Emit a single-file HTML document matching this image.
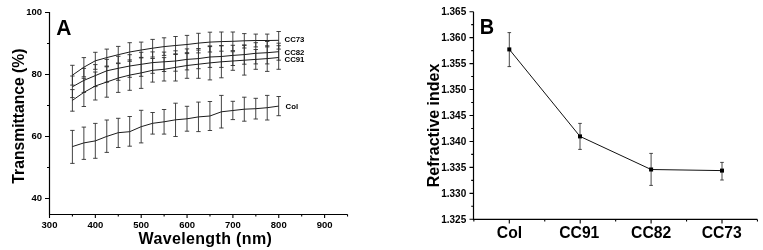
<!DOCTYPE html>
<html><head><meta charset="utf-8"><style>
html,body{margin:0;padding:0;background:#fff;}
svg{display:block;will-change:transform;}
text{font-family:"Liberation Sans",sans-serif;font-weight:bold;fill:#000;}
.tl{font-size:9.5px;}
.tlb{font-size:10px;}
.pl{font-size:20.5px;}
.pa{font-size:21px;}
.at{font-size:16px;}
.sl{font-size:7.8px;}
.ct{font-size:15.7px;}
</style></head><body>
<svg width="763" height="250" viewBox="0 0 763 250">
<path d="M49.5 12V214.5H347.6" fill="none" stroke="#000" stroke-width="1.2"/>
<path d="M45 12.50H49.5M45 74.50H49.5M45 136.50H49.5M45 198.50H49.5M47 43.50H49.5M47 105.50H49.5M47 167.50H49.5M49.50 214.5V218M95.35 214.5V218M141.20 214.5V218M187.05 214.5V218M232.90 214.5V218M278.75 214.5V218M324.60 214.5V218M72.42 214.5V216.5M118.28 214.5V216.5M164.12 214.5V216.5M209.97 214.5V216.5M255.83 214.5V216.5M301.68 214.5V216.5M347.53 214.5V216.5" stroke="#000" stroke-width="1.1" fill="none"/>
<text transform="translate(42 14.70) scale(1 1.04)" class="tl" text-anchor="end">100</text>
<text transform="translate(42 76.70) scale(1 1.04)" class="tl" text-anchor="end">80</text>
<text transform="translate(42 138.70) scale(1 1.04)" class="tl" text-anchor="end">60</text>
<text transform="translate(42 200.70) scale(1 1.04)" class="tl" text-anchor="end">40</text>
<text transform="translate(49.50 227.6) scale(1 1.04)" class="tl" text-anchor="middle">300</text>
<text transform="translate(95.35 227.6) scale(1 1.04)" class="tl" text-anchor="middle">400</text>
<text transform="translate(141.20 227.6) scale(1 1.04)" class="tl" text-anchor="middle">500</text>
<text transform="translate(187.05 227.6) scale(1 1.04)" class="tl" text-anchor="middle">600</text>
<text transform="translate(232.90 227.6) scale(1 1.04)" class="tl" text-anchor="middle">700</text>
<text transform="translate(278.75 227.6) scale(1 1.04)" class="tl" text-anchor="middle">800</text>
<text transform="translate(324.60 227.6) scale(1 1.04)" class="tl" text-anchor="middle">900</text>
<text transform="translate(56.3 34.6) scale(1 1.08)" class="pa">A</text>
<text x="138.6" y="243.8" class="at" style="letter-spacing:0.35px">Wavelength (nm)</text>
<text transform="translate(24.2 116.1) rotate(-90)" class="at" style="font-size:15.7px" text-anchor="middle">Transmittance (%)</text>
<path d="M72.40 65.30V85.10M70.20 65.30H74.60M70.20 85.10H74.60M83.86 57.60V76.80M81.66 57.60H86.06M81.66 76.80H86.06M95.32 52.30V69.30M93.12 52.30H97.52M93.12 69.30H97.52M106.78 49.10V66.10M104.58 49.10H108.98M104.58 66.10H108.98M118.24 46.40V63.00M116.04 46.40H120.44M116.04 63.00H120.44M129.70 42.70V61.30M127.50 42.70H131.90M127.50 61.30H131.90M141.16 42.10V57.90M138.96 42.10H143.36M138.96 57.90H143.36M152.62 39.40V57.00M150.42 39.40H154.82M150.42 57.00H154.82M164.08 37.80V55.40M161.88 37.80H166.28M161.88 55.40H166.28M175.54 36.50V54.50M173.34 36.50H177.74M173.34 54.50H177.74M187.00 35.40V53.60M184.80 35.40H189.20M184.80 53.60H189.20M198.46 33.30V52.90M196.26 33.30H200.66M196.26 52.90H200.66M209.92 32.20V52.00M207.72 32.20H212.12M207.72 52.00H212.12M221.38 32.00V51.20M219.18 32.00H223.58M219.18 51.20H223.58M232.84 32.00V50.60M230.64 32.00H235.04M230.64 50.60H235.04M244.30 33.60V48.00M242.10 33.60H246.50M242.10 48.00H246.50M255.76 34.10V46.90M253.56 34.10H257.96M253.56 46.90H257.96M267.22 34.10V46.90M265.02 34.10H269.42M265.02 46.90H269.42M278.68 31.50V49.10M276.48 31.50H280.88M276.48 49.10H280.88M72.40 76.00V97.60M70.20 76.00H74.60M70.20 97.60H74.60M83.86 68.40V92.40M81.66 68.40H86.06M81.66 92.40H86.06M95.32 64.60V86.60M93.12 64.60H97.52M93.12 86.60H97.52M106.78 59.40V82.20M104.58 59.40H108.98M104.58 82.20H108.98M118.24 56.30V80.30M116.04 56.30H120.44M116.04 80.30H120.44M129.70 54.70V77.30M127.50 54.70H131.90M127.50 77.30H131.90M141.16 52.30V76.30M138.96 52.30H143.36M138.96 76.30H143.36M152.62 51.90V73.30M150.42 51.90H154.82M150.42 73.30H154.82M164.08 52.10V71.50M161.88 52.10H166.28M161.88 71.50H166.28M175.54 50.80V71.20M173.34 50.80H177.74M173.34 71.20H177.74M187.00 48.90V69.90M184.80 48.90H189.20M184.80 69.90H189.20M198.46 48.50V68.70M196.26 48.50H200.66M196.26 68.70H200.66M209.92 46.60V67.40M207.72 46.60H212.12M207.72 67.40H212.12M221.38 45.60V67.40M219.18 45.60H223.58M219.18 67.40H223.58M232.84 45.30V65.50M230.64 45.30H235.04M230.64 65.50H235.04M244.30 45.00V64.20M242.10 45.00H246.50M242.10 64.20H246.50M255.76 42.70V63.90M253.56 42.70H257.96M253.56 63.90H257.96M267.22 41.50V63.90M265.02 41.50H269.42M265.02 63.90H269.42M278.68 43.20V60.20M276.48 43.20H280.88M276.48 60.20H280.88M72.40 89.60V111.20M70.20 89.60H74.60M70.20 111.20H74.60M83.86 78.30V106.50M81.66 78.30H86.06M81.66 106.50H86.06M95.32 72.00V100.00M93.12 72.00H97.52M93.12 100.00H97.52M106.78 66.80V97.20M104.58 66.80H108.98M104.58 97.20H108.98M118.24 63.60V92.40M116.04 63.60H120.44M116.04 92.40H120.44M129.70 59.90V90.30M127.50 59.90H131.90M127.50 90.30H131.90M141.16 57.40V88.40M138.96 57.40H143.36M138.96 88.40H143.36M152.62 58.50V82.10M150.42 58.50H154.82M150.42 82.10H154.82M164.08 57.60V81.00M161.88 57.60H166.28M161.88 81.00H166.28M175.54 53.80V81.00M173.34 53.80H177.74M173.34 81.00H177.74M187.00 52.70V78.30M184.80 52.70H189.20M184.80 78.30H189.20M198.46 50.10V78.30M196.26 50.10H200.66M196.26 78.30H200.66M209.92 45.90V79.90M207.72 45.90H212.12M207.72 79.90H212.12M221.38 45.80V77.80M219.18 45.80H223.58M219.18 77.80H223.58M232.84 51.70V70.30M230.64 51.70H235.04M230.64 70.30H235.04M244.30 45.30V75.10M242.10 45.30H246.50M242.10 75.10H246.50M255.76 49.50V69.30M253.56 49.50H257.96M253.56 69.30H257.96M267.22 45.80V71.40M265.02 45.80H269.42M265.02 71.40H269.42M278.68 45.70V69.30M276.48 45.70H280.88M276.48 69.30H280.88M72.40 130.40V163.40M70.20 130.40H74.60M70.20 163.40H74.60M83.86 127.10V159.40M81.66 127.10H86.06M81.66 159.40H86.06M95.32 123.40V158.30M93.12 123.40H97.52M93.12 158.30H97.52M106.78 120.00V152.40M104.58 120.00H108.98M104.58 152.40H108.98M118.24 118.30V147.50M116.04 118.30H120.44M116.04 147.50H120.44M129.70 116.50V146.20M127.50 116.50H131.90M127.50 146.20H131.90M141.16 110.30V142.90M138.96 110.30H143.36M138.96 142.90H143.36M152.62 112.50V134.10M150.42 112.50H154.82M150.42 134.10H154.82M164.08 109.50V134.10M161.88 109.50H166.28M161.88 134.10H166.28M175.54 103.20V136.50M173.34 103.20H177.74M173.34 136.50H177.74M187.00 106.30V131.20M184.80 106.30H189.20M184.80 131.20H189.20M198.46 102.10V131.60M196.26 102.10H200.66M196.26 131.60H200.66M209.92 101.50V130.50M207.72 101.50H212.12M207.72 130.50H212.12M221.38 95.40V128.00M219.18 95.40H223.58M219.18 128.00H223.58M232.84 101.30V119.60M230.64 101.30H235.04M230.64 119.60H235.04M244.30 97.20V121.20M242.10 97.20H246.50M242.10 121.20H246.50M255.76 98.30V119.00M253.56 98.30H257.96M253.56 119.00H257.96M267.22 95.40V120.00M265.02 95.40H269.42M265.02 120.00H269.42M278.68 96.50V115.70M276.48 96.50H280.88M276.48 115.70H280.88" stroke="#303030" stroke-width="0.9" fill="none"/>
<polyline points="72.40,75.20 83.86,67.20 95.32,60.80 106.78,57.60 118.24,54.70 129.70,52.00 141.16,50.00 152.62,48.20 164.08,46.60 175.54,45.50 187.00,44.50 198.46,43.10 209.92,42.10 221.38,41.60 232.84,41.30 244.30,40.80 255.76,40.50 267.22,40.50 278.68,40.30" stroke="#1c1c1c" stroke-width="1" fill="none"/>
<polyline points="72.40,86.80 83.86,80.40 95.32,75.60 106.78,70.80 118.24,68.30 129.70,66.00 141.16,64.30 152.62,62.60 164.08,61.80 175.54,61.00 187.00,59.40 198.46,58.60 209.92,57.00 221.38,56.50 232.84,55.40 244.30,54.60 255.76,53.30 267.22,52.70 278.68,51.70" stroke="#1c1c1c" stroke-width="1" fill="none"/>
<polyline points="72.40,100.40 83.86,92.40 95.32,86.00 106.78,82.00 118.24,78.00 129.70,75.10 141.16,72.90 152.62,70.30 164.08,69.30 175.54,67.40 187.00,65.50 198.46,64.20 209.92,62.90 221.38,61.80 232.84,61.00 244.30,60.20 255.76,59.40 267.22,58.60 278.68,57.50" stroke="#1c1c1c" stroke-width="1" fill="none"/>
<polyline points="72.40,146.60 83.86,142.90 95.32,140.90 106.78,136.40 118.24,132.70 129.70,131.70 141.16,126.70 152.62,123.30 164.08,121.80 175.54,119.80 187.00,118.80 198.46,116.90 209.92,116.00 221.38,111.80 232.84,110.50 244.30,109.20 255.76,108.70 267.22,107.70 278.68,106.10" stroke="#1c1c1c" stroke-width="1" fill="none"/>
<text x="284.5" y="42" class="sl">CC73</text>
<text x="284.5" y="54.7" class="sl">CC82</text>
<text x="284.5" y="61.8" class="sl">CC91</text>
<text x="285.5" y="109.3" class="sl">Col</text>
<path d="M473.5 11.7V219.4H757.4" fill="none" stroke="#000" stroke-width="1.2"/>
<path d="M469.5 11.70H473.5M469.5 37.65H473.5M469.5 63.60H473.5M469.5 89.55H473.5M469.5 115.50H473.5M469.5 141.45H473.5M469.5 167.40H473.5M469.5 193.35H473.5M469.5 219.30H473.5M471.2 24.67H473.5M471.2 50.62H473.5M471.2 76.57H473.5M471.2 102.52H473.5M471.2 128.47H473.5M471.2 154.42H473.5M471.2 180.37H473.5M471.2 206.32H473.5M509.30 219.4V223.5M580.20 219.4V223.5M651.10 219.4V223.5M722.00 219.4V223.5M473.85 219.4V221.6M544.75 219.4V221.6M615.65 219.4V221.6M686.55 219.4V221.6M757.45 219.4V221.6" stroke="#000" stroke-width="1.1" fill="none"/>
<text transform="translate(466.2 15.00) scale(1 1.08)" class="tlb" text-anchor="end">1.365</text>
<text transform="translate(466.2 40.95) scale(1 1.08)" class="tlb" text-anchor="end">1.360</text>
<text transform="translate(466.2 66.90) scale(1 1.08)" class="tlb" text-anchor="end">1.355</text>
<text transform="translate(466.2 92.85) scale(1 1.08)" class="tlb" text-anchor="end">1.350</text>
<text transform="translate(466.2 118.80) scale(1 1.08)" class="tlb" text-anchor="end">1.345</text>
<text transform="translate(466.2 144.75) scale(1 1.08)" class="tlb" text-anchor="end">1.340</text>
<text transform="translate(466.2 170.70) scale(1 1.08)" class="tlb" text-anchor="end">1.335</text>
<text transform="translate(466.2 196.65) scale(1 1.08)" class="tlb" text-anchor="end">1.330</text>
<text transform="translate(466.2 222.60) scale(1 1.08)" class="tlb" text-anchor="end">1.325</text>
<text transform="translate(509.50 237.8) scale(1 1.06)" class="ct" text-anchor="middle">Col</text>
<text transform="translate(579.30 237.8) scale(1 1.06)" class="ct" text-anchor="middle">CC91</text>
<text transform="translate(651.10 237.8) scale(1 1.06)" class="ct" text-anchor="middle">CC82</text>
<text transform="translate(721.70 237.8) scale(1 1.06)" class="ct" text-anchor="middle">CC73</text>
<text transform="translate(479.8 33.9) scale(0.97 1.08)" class="pl">B</text>
<text transform="translate(439 125.4) rotate(-90)" class="at" text-anchor="middle">Refractive index</text>
<polyline points="509.3,49.4 580,136.4 651.1,169.5 722,170.6" stroke="#111" stroke-width="1" fill="none"/>
<path d="M509.3 32.6V66.6M507.5 32.6H511.1M507.5 66.6H511.1M580 123.4V149.4M578.2 123.4H581.8M578.2 149.4H581.8M651.1 153.4V185.4M649.3000000000001 153.4H652.9M649.3000000000001 185.4H652.9M722 162.4V180M720.2 162.4H723.8M720.2 180H723.8" stroke="#333" stroke-width="0.9" fill="none"/>
<rect x="507.3" y="47.4" width="4" height="4" fill="#000"/>
<rect x="578" y="134.4" width="4" height="4" fill="#000"/>
<rect x="649.1" y="167.5" width="4" height="4" fill="#000"/>
<rect x="720" y="168.6" width="4" height="4" fill="#000"/>
</svg>
</body></html>
